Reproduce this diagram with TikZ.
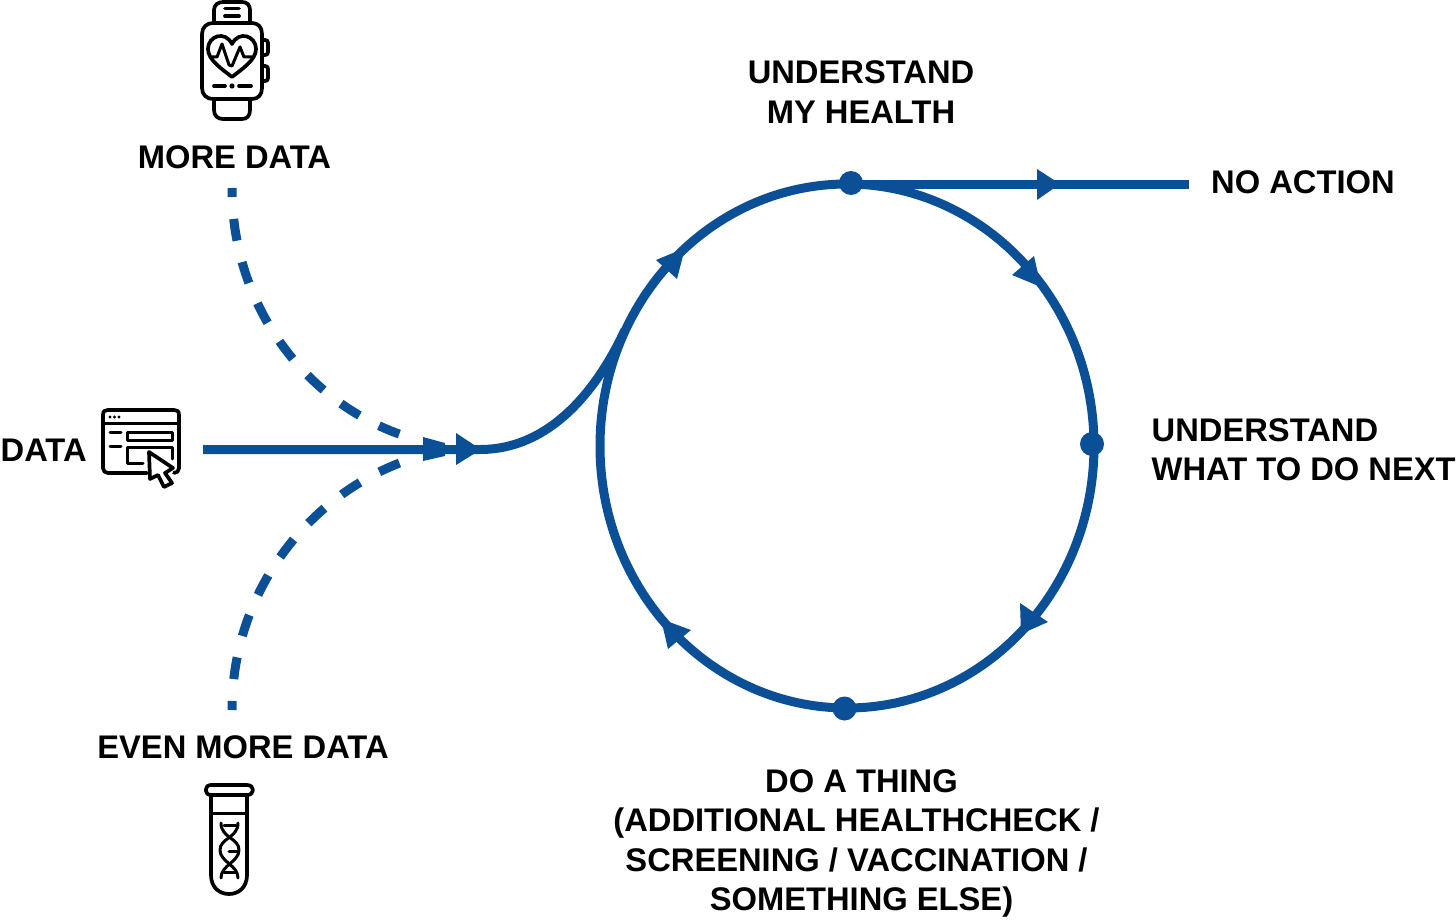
\documentclass[tikz,border=0pt]{standalone}
\usepackage{fontspec}
\setmainfont{Liberation Sans}
\usetikzlibrary{calc}
\definecolor{flow}{HTML}{0B5097}
\tikzset{
 x=1pt,y=-1pt,
 flowline/.style={draw=flow,line width=9pt},
 dashline/.style={draw=flow,line width=9pt,dash pattern=on 22pt off 22pt,dash phase=13pt},
 dotnode/.style={circle,fill=flow,minimum size=24pt,inner sep=0pt},
 lbl/.style={font=\fontsize{32.7}{39.3}\bfseries\selectfont,align=center,inner sep=0pt},
 lbll/.style={lbl,align=left},
 tipfill/.style={fill=flow,draw=none},
 icon/.style={draw=black,line width=3.7pt,line cap=round,line join=round},
 iconthin/.style={draw=black,line width=3pt,line cap=round,line join=round},
}
\begin{document}
\begin{tikzpicture}
\useasboundingbox (0,0) rectangle (1456,923);
% coordinates
\coordinate (start) at (203,449.5);
\coordinate (merge) at (480,449.5);
\coordinate (join) at (625,330);
\coordinate (cc) at (847,446);
\coordinate (noend) at (1189,184);
\coordinate (d1s) at (232,188);
\coordinate (d1e) at (405,436);
\coordinate (d2s) at (232,710);
\coordinate (d2e) at (405,461);
% circle
\draw[flowline] (cc) ellipse [x radius=247, y radius=262];
% dots
\node[dotnode] (top) at (851,183) {};
\node[dotnode] (right) at (1092,444) {};
\node[dotnode] (bottom) at (844.5,708.5) {};
% lines
\draw[flowline] (top.center) ++(0,1) -- (noend);
\draw[flowline] (start) -- (merge) .. controls (550,449.5) and (597,390) .. (join);
\draw[dashline] (d1s) .. controls (232,310) and (310,405) .. (d1e);
\draw[dashline] (d2s) .. controls (232,590) and (310,495) .. (d2e);
% arrow tips
\fill[tipfill] (1060,184) -- (1037,169) -- (1037,200) -- cycle;
\fill[tipfill] (481,449.5) -- (456,433) -- (456,465) -- cycle;
\fill[tipfill] (445,443) -- (423,437) -- (423,461) -- (445,456) -- cycle;
\fill[tipfill] (685,248) -- (656,260) -- (677,279) -- cycle;
\fill[tipfill] (1041,287) -- (1012,275) -- (1034,256) -- cycle;
\fill[tipfill] (1021,634) -- (1020,603) -- (1048,622) -- cycle;
\fill[tipfill] (661,619) -- (668,649) -- (691,630) -- cycle;
% labels
\node[lbl] (l1) at (861,92) {UNDERSTAND\\MY HEALTH};
\node[lbl,anchor=west] (l2) at (1211,182) {NO ACTION};
\node[lbll,anchor=west] (l3) at (1151.5,450) {UNDERSTAND\\WHAT TO DO NEXT};
\node[lbl] (l4) at (856.5,843.5) {\hspace*{10pt}DO A THING\\(ADDITIONAL HEALTHCHECK /\\SCREENING / VACCINATION /\\\hspace*{10pt}SOMETHING ELSE)};
\node[lbl] (l5) at (234.5,157) {MORE DATA};
\node[lbl,anchor=west] (l6) at (0.5,450) {DATA};
\node[lbl] (l7) at (243,747) {EVEN MORE DATA};
% watch
\draw[icon] (202,34) .. controls (202,27) and (207,23) .. (213,23) -- (252,23) .. controls (258,23) and (262,27) .. (262,34) -- (262,88) .. controls (262,95) and (258,99) .. (252,99) -- (213,99) .. controls (207,99) and (202,95) .. (202,88) -- cycle;
\draw[icon] (214,23) -- (214,10) .. controls (214,5) and (218,2) .. (223,2) -- (242,2) .. controls (247,2) and (250,5) .. (250,10) -- (250,23);
\draw[icon] (214,99) -- (214,110) .. controls (214,116) and (218,119) .. (223,119) -- (242,119) .. controls (247,119) and (250,116) .. (250,110) -- (250,99);
\draw[icon] (225,8.5) -- (239,8.5) (225,16) -- (239,16);
\draw[icon] (262,40) -- (265,40) .. controls (267,40) and (268,41) .. (268,43) -- (268,52) .. controls (268,54) and (267,55) .. (265,55) -- (262,55);
\draw[icon] (262,66) -- (265,66) .. controls (267,66) and (268,67) .. (268,69) -- (268,78) .. controls (268,80) and (267,81) .. (265,81) -- (262,81);
\draw[icon] (232,77) .. controls (222,69) and (208,60) .. (208,49) .. controls (208,36) and (225,30) .. (232,44) .. controls (239,30) and (256,36) .. (256,49) .. controls (256,60) and (242,69) .. (232,77) -- cycle;
\draw[iconthin] (212,57) -- (217,57) -- (222,44) -- (229,65) -- (232,66) -- (240,47) -- (244,57) -- (252,57);
\draw[icon] (214,86) -- (225,86) (239,86) -- (251,86);
\fill (232,86) circle (2.6pt);
% browser
\draw[icon] (147,473) -- (108,473) .. controls (105,473) and (103,471) .. (103,468) -- (103,415) .. controls (103,411) and (105,410) .. (108,410) -- (174,410) .. controls (177,410) and (179,411) .. (179,415) -- (179,468) .. controls (179,471) and (177,473) .. (174,473);
\draw[iconthin] (103,423) -- (179,423);
\foreach \bx in {110,114.5,119} \fill (\bx,417) circle (1.7pt);
\draw[iconthin] (110,432) -- (121,432) (110,446) -- (121,446);
\draw[iconthin] (127,432.5) rectangle (172,440);
\draw[iconthin] (143,463) -- (127,463) -- (127,447) -- (172,447) -- (172,459);
\draw[icon] (149,452) -- (173,468) -- (165,473) -- (172,483) -- (164,487) -- (158,475) -- (150,479) -- cycle;
% tube
\draw[icon] (211,795) -- (211,875) .. controls (211,888) and (220,894) .. (229,894) .. controls (238,894) and (247,888) .. (247,875) -- (247,795);
\draw[icon] (211,785) -- (247,785) .. controls (255,785) and (255,795) .. (247,795) -- (211,795) .. controls (204,795) and (204,785) .. (211,785) -- cycle;
\draw[iconthin] (211,813) -- (247,813);
\draw[iconthin] (221,823) .. controls (221,838) and (239,838) .. (239,850) .. controls (239,862) and (221,865) .. (221,878);
\draw[iconthin] (238,823) .. controls (238,838) and (220,838) .. (220,850) .. controls (220,862) and (238,865) .. (238,878);
\draw[iconthin] (224,825) -- (236,825) (229,851) -- (238,851) (224,872) -- (236,872);
\end{tikzpicture}
\end{document}
